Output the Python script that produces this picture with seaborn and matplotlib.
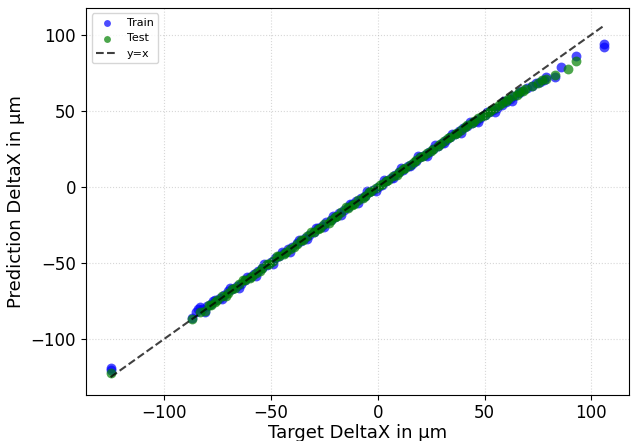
import numpy as np
import matplotlib
matplotlib.use("Agg")
import matplotlib.pyplot as plt
import seaborn as sns

# DATA
train_target = [-125, -125, -87, -85, -84, -83, -82, -80, -78, -76, -74, -72, -70, -68,
                -66, -64, -62, -60, -58, -56, -54, -52, -50, -48, -46, -44, -42, -40,
                -38, -36, -34, -32, -30, -28, -26, -24, -22, -20, -18, -16, -14, -12,
                -10, -8, -6, -4, -2, 0, 2, 4, 6, 8, 10, 12, 14, 16, 18, 20, 22, 24,
                26, 28, 30, 32, 34, 36, 38, 40, 42, 44, 46, 48, 50, 52, 54, 56, 58,
                60, 62, 64, 66, 70, 72, 76, 78, 79, 83, 86, 93, 106, 106,
                -81, -77, -73, -69, -65, -61, -57, -53, -49, -45, -41, -37, -33, -29,
                -25, -21, -17, -13, -9, -5, -1, 3, 7, 11, 15, 19, 23, 27, 31, 35,
                39, 43, 47, 51, 55, 59, 63, 67, 74]
train_pred = [-119, -120.5, -86, -82, -80, -79, -80, -78.5, -77, -74.5, -73, -71, -68.5, -67,
              -65, -63.5, -61, -59.5, -57, -55.5, -53, -51.5, -49.5, -47, -45.5, -43.5, -41, -39.5,
              -37, -35.5, -33.5, -31.5, -29.5, -27, -25.5, -23, -21.5, -19.5, -17, -15.5, -13.5, -11.5,
              -9.5, -7.5, -6, -3.5, -2, 0, 1.5, 4, 6, 7.5, 9.5, 11, 13.5, 15, 17, 19.5, 21, 23,
              25, 27, 29, 31, 33, 34.5, 37, 38.5, 40, 42, 43.5, 45.5, 47, 49, 50.5, 52, 54,
              56, 57.5, 60, 61.5, 65, 66, 69, 70, 72, 72, 79, 86, 94, 92,
              -82.5, -75, -74, -66.5, -66.5, -59, -58.5, -51, -50.5, -43, -42.5, -35, -34.5, -27,
              -26.5, -19, -18.5, -11, -10.5, -3, -2.5, 4.5, 5.5, 12.5, 13.5, 20, 20.5, 27.5, 28.5, 35,
              35.5, 42.5, 42.5, 49.5, 49.5, 56.5, 56.5, 63, 68]

test_target = [-125, -87, -83, -81, -78, -75, -73, -70, -67, -65, -62, -59, -57, -54,
               -51, -49, -46, -43, -41, -38, -35, -33, -30, -27, -25, -22, -19, -17,
               -14, -11, -9, -6, -3, -1, 2, 5, 7, 10, 13, 15, 18, 21, 23, 26, 29, 31,
               34, 37, 39, 42, 45, 47, 50, 53, 55, 58, 61, 63, 66, 69, 72, 75, 77, 79,
               83, 89, 93,
               -79, -71, -63, -55, -47, -39, -31, -23, -15, -7, 1, 9, 17, 25, 33, 41,
               49, 57, 65,
               -76, -68, -60, -52, -44, -36, -28, -20, -12, -4, 4, 12, 20, 28, 36, 44,
               52, 60, 68]
test_pred = [-122.5, -86.5, -82, -81.5, -77.5, -74.5, -72, -69.5, -66.5, -64, -61.5, -58.5, -56.5, -53.5,
             -50.5, -48.5, -45.5, -43, -40.5, -37.5, -35, -32.5, -29.5, -27, -24.5, -21.5, -19, -16.5,
             -14, -11, -8.5, -6, -3, -1, 2, 4.5, 7, 9.5, 12.5, 14.5, 17.5, 20.5, 22.5, 25, 28, 30,
             33, 35.5, 37.5, 40.5, 43, 45, 47.5, 50.5, 52, 55, 57.5, 59.5, 62, 64.5, 66.5, 68.5, 70, 71,
             73.5, 77.5, 83,
             -77.5, -71.5, -61.5, -55.5, -45.5, -39.5, -29.5, -23.5, -13.5, -7.5, 1.5, 8, 16.5, 23.5, 32, 39,
             46.5, 53.5, 60.5,
             -75.5, -67, -60, -51, -44, -35, -28, -19.5, -12, -3.5, 4, 11.5, 19.5, 27, 35, 42,
             49.5, 56.5, 63]

line_range = [min(train_target + test_target), max(train_target + test_target)]

plt.rcParams['font.family'] = ['DejaVu Sans']

fig, ax = plt.subplots(figsize=(6.32, 4.41), dpi=100)

sns.scatterplot(x=train_target, y=train_pred, color="blue", alpha=0.7, s=50,
                linewidth=0, label="Train", ax=ax)
sns.scatterplot(x=test_target, y=test_pred, color="green", alpha=0.7, s=50,
                linewidth=0, label="Test", ax=ax)
ax.plot(line_range, line_range, "k--", alpha=0.75, lw=1.5, label="y=x")

ax.set_xlabel("Target DeltaX in µm", fontsize=13, labelpad=1)
ax.set_ylabel("Prediction DeltaX in µm", fontsize=13)
ax.tick_params(labelsize=12)
ax.grid(True, linestyle=":", alpha=0.5)
ax.legend(loc="upper left", fontsize=8, markerscale=0.7)

fig.subplots_adjust(left=0.136, right=0.995, top=0.982, bottom=0.105)
fig.savefig("out.png", dpi=100)
